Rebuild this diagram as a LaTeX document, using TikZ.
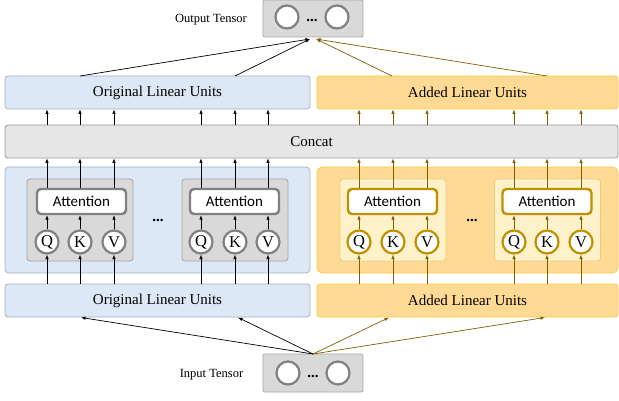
\documentclass[tikz,border=0pt]{standalone}
\usepackage{fontspec}
\setmainfont{Liberation Serif}
\newfontfamily\attfont{Carlito}
\usetikzlibrary{arrows.meta,calc}
\definecolor{bluefill}{HTML}{DCE8F5}
\definecolor{blueline}{HTML}{A7B3C0}
\definecolor{goldfill}{HTML}{FFDA94}
\definecolor{goldline}{HTML}{FFC940}
\definecolor{goldinner}{HTML}{FFF1CA}
\definecolor{goldinnerline}{HTML}{EDCB7A}
\definecolor{golddark}{HTML}{BF9000}
\definecolor{goldarrow}{HTML}{7F6000}
\definecolor{grayfill}{HTML}{D9D9D9}
\definecolor{grayline}{HTML}{A6A6A6}
\definecolor{concatfill}{HTML}{E6E6E6}
\definecolor{concatline}{HTML}{999999}
\definecolor{circline}{HTML}{808080}
\tikzset{
  unitbox/.style={draw=blueline, fill=bluefill, line width=0.8pt, rounded corners=3pt, minimum width=305pt, minimum height=33pt, inner sep=0pt, font=\fontsize{15}{18}\selectfont},
  addbox/.style={draw=goldline, fill=goldfill, line width=0.8pt, rounded corners=3pt, minimum width=301pt, minimum height=33pt, inner sep=0pt, font=\fontsize{15}{18}\selectfont},
  grayinner/.style={draw=grayline, fill=grayfill, line width=0.8pt, rounded corners=3pt, minimum width=106pt, minimum height=82pt, inner sep=0pt},
  goldinnerbox/.style={draw=goldinnerline, fill=goldinner, line width=0.8pt, rounded corners=3pt, minimum width=106pt, minimum height=82pt, inner sep=0pt},
  attgray/.style={draw=circline, fill=white, line width=2.4pt, rounded corners=4pt, minimum width=89pt, minimum height=25pt, inner sep=0pt, font=\attfont\fontsize{15}{18}\selectfont},
  attgold/.style={attgray, draw=golddark},
  qgray/.style={circle, draw=circline, fill=white, line width=2.2pt, minimum size=23pt, inner sep=0pt, font=\fontsize{16.5}{19}\selectfont},
  qgold/.style={qgray, draw=golddark},
  tcirc/.style={circle, draw=circline, fill=white, line width=2.2pt, minimum size=23pt, inner sep=0pt},
  tensorbox/.style={draw=grayline, fill=grayfill, line width=0.8pt, rounded corners=2pt, minimum width=100pt, minimum height=37pt, inner sep=0pt},
  lbl/.style={font=\fontsize{12.5}{15}\selectfont, inner sep=0pt},
  dots/.style={font=\bfseries\fontsize{15}{18}\selectfont, inner sep=0pt},
  arr/.style={line width=0.7pt, -{Latex[length=4.5pt,width=3.5pt]}},
  garr/.style={arr, draw=goldarrow, color=goldarrow},
}
\begin{document}
\begin{tikzpicture}[x=1pt,y=-1pt]
\useasboundingbox (0,0) rectangle (619,401);

% output tensor
\node[tensorbox] (outbox) at (313,18.5) {};
\node[tcirc] (oc1) at (287,17) {};
\node[tcirc] (oc2) at (337,17) {};
\node[dots] (odots) at (312,20) {...};
\node[lbl] (outlbl) at (211,20) {Output Tensor};

% top units
\node[unitbox] (topO) at (157.5,92.5) {Original Linear Units};
\node[addbox] (topA) at (467.5,92.5) {Added Linear Units};

% concat
\node[draw=concatline, fill=concatfill, line width=0.8pt, rounded corners=3pt, minimum width=613pt, minimum height=33pt, inner sep=0pt, font=\fontsize{15}{18}\selectfont] (concat) at (311.5,141.5) {Concat};

% middle blocks
\node[draw=blueline, fill=bluefill, line width=0.8pt, rounded corners=4pt, minimum width=305pt, minimum height=106pt, inner sep=0pt] (midO) at (157.5,220) {};
\node[draw=goldline, fill=goldfill, line width=0.8pt, rounded corners=6pt, minimum width=301pt, minimum height=106pt, inner sep=0pt] (midA) at (467.5,220) {};

\node[grayinner] (in1) at (80,220) {};
\node[grayinner] (in2) at (235,220) {};
\node[goldinnerbox] (in3) at (393,220) {};
\node[goldinnerbox] (in4) at (547.5,220) {};

\node[attgray] (att1) at (81.5,201.5) {Attention};
\node[attgray] (att2) at (234.5,201.5) {Attention};
\node[attgold] (att3) at (392.5,201.5) {Attention};
\node[attgold] (att4) at (547,201.5) {Attention};

\node[dots] (mdots1) at (158,220) {...};
\node[dots] (mdots2) at (472,220) {...};

\foreach \n/\x/\l/\s in {a1/47/Q/qgray, a2/80/K/qgray, a3/114/V/qgray,
                          b1/201/Q/qgray, b2/235/K/qgray, b3/268/V/qgray,
                          c1/359/Q/qgold, c2/393/K/qgold, c3/427/V/qgold,
                          d1/514/Q/qgold, d2/547/K/qgold, d3/581/V/qgold}
  \node[\s] (\n) at (\x,242) {\l};

% bottom units
\node[unitbox] (botO) at (157.5,300.5) {Original Linear Units};
\node[addbox] (botA) at (467.5,300.5) {Added Linear Units};

% input tensor
\node[tensorbox, minimum height=38pt] (inbox) at (313,373) {};
\node[tcirc] (ic1) at (288,373) {};
\node[tcirc] (ic2) at (338,373) {};
\node[dots] (idots) at (313,376) {...};
\node[lbl] (inlbl) at (211.5,375) {Input Tensor};

% arrows
\foreach \n/\att/\bot/\top/\st in {a1/att1/botO/topO/arr, a2/att1/botO/topO/arr, a3/att1/botO/topO/arr,
                                   b1/att2/botO/topO/arr, b2/att2/botO/topO/arr, b3/att2/botO/topO/arr,
                                   c1/att3/botA/topA/garr, c2/att3/botA/topA/garr, c3/att3/botA/topA/garr,
                                   d1/att4/botA/topA/garr, d2/att4/botA/topA/garr, d3/att4/botA/topA/garr}{
  \draw[\st] (\n.north) -- (\n.north |- \att.south);
  \draw[\st] (\n.south |- \bot.north) -- (\n.south);
  \draw[\st] (\n.north |- \att.north) -- (\n.north |- concat.south);
  \draw[\st] (\n.north |- concat.north) -- (\n.north |- \top.south);
}

% top units -> output
\coordinate (otB) at (310,39);
\coordinate (otG) at (316,39);
\coordinate (s1) at (80,76);
\coordinate (s2) at (235,76);
\coordinate (s3) at (392,76);
\coordinate (s4) at (547,76);
\draw[arr] (s1) -- (otB);
\draw[arr] (s2) -- (otB);
\draw[garr] (s3) -- (otG);
\draw[garr] (s4) -- (otG);

% input -> bottom units
\coordinate (isrc) at (313,354);
\coordinate (t1) at (81,317.5);
\coordinate (t2) at (238,317.5);
\coordinate (t3) at (389,317.5);
\coordinate (t4) at (545,317.5);
\draw[arr] (isrc) -- (t1);
\draw[arr] (isrc) -- (t2);
\draw[garr] (isrc) -- (t3);
\draw[garr] (isrc) -- (t4);
\end{tikzpicture}
\end{document}
